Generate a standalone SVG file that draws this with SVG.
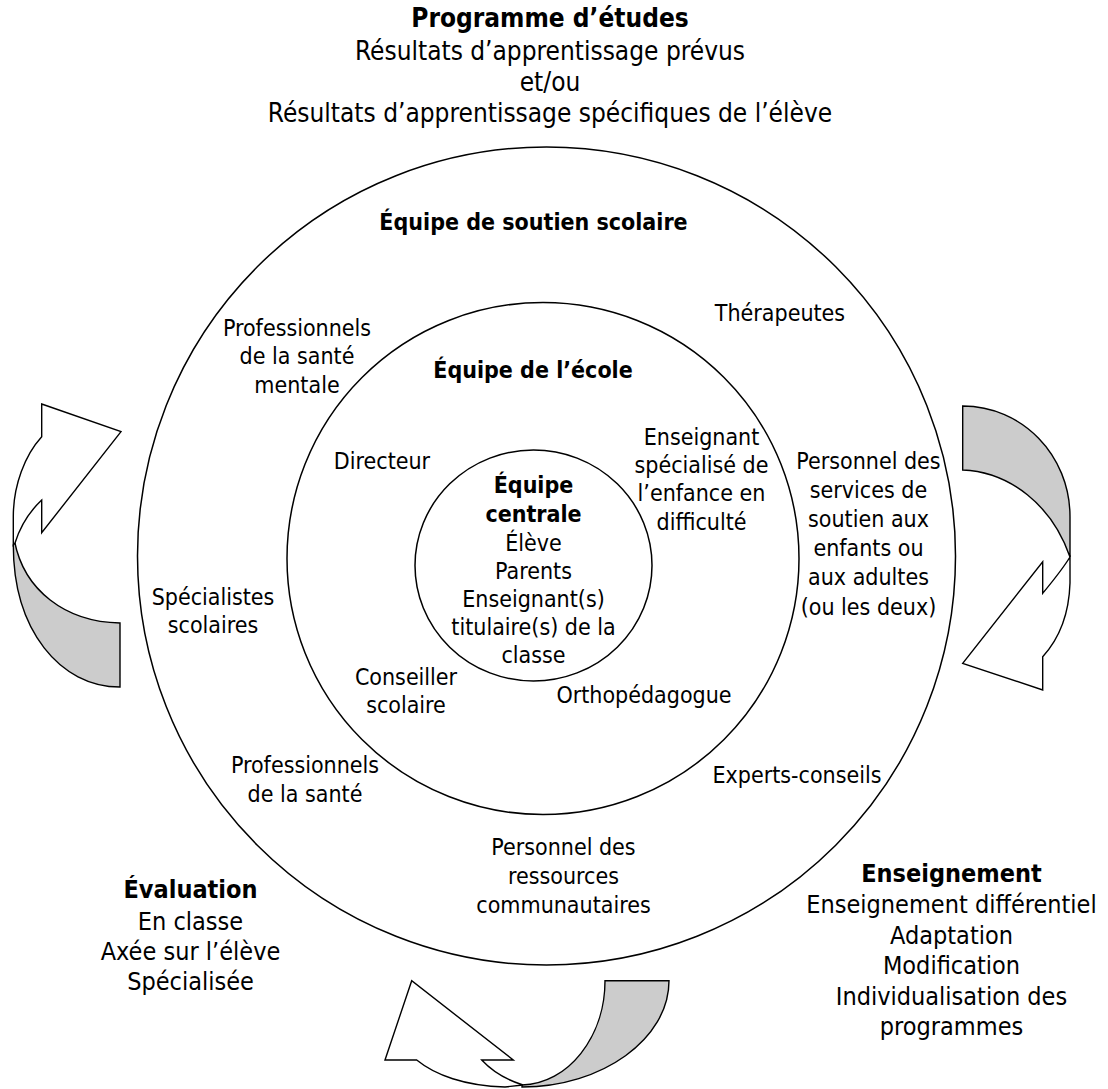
<svg xmlns="http://www.w3.org/2000/svg" width="1108" height="1089" viewBox="0 0 1108 1089">
<style>
text{font-family:"DejaVu Sans Condensed","DejaVu Sans","Liberation Sans",sans-serif;fill:#000;text-anchor:middle}
.r{font-size:23px}
.b{font-size:23px;font-weight:bold}
.s{font-size:25px}
.sb{font-size:25px;font-weight:bold}
.t{font-size:26px}
.tb{font-size:26px;font-weight:bold}
.ring{fill:none;stroke:#000;stroke-width:1.5}
.aw{fill:#fff;stroke:#000;stroke-width:1.4;stroke-linejoin:miter}
.ag{fill:#cccccc;stroke:#000;stroke-width:1.4}
</style>
<rect width="1108" height="1089" fill="#fff"/>

<g id="programme">
<text class="tb" x="550" y="27">Programme d’études</text>
<text class="t" x="550" y="60">Résultats d’apprentissage prévus</text>
<text class="t" x="550" y="91">et/ou</text>
<text class="t" x="550" y="122">Résultats d’apprentissage spécifiques de l’élève</text>
</g>

<g id="equipe-soutien">
<circle class="ring" cx="546.5" cy="556" r="409"/>
<text class="b" x="533.5" y="230">Équipe de soutien scolaire</text>
</g>

<g id="equipe-ecole">
<circle class="ring" cx="543" cy="558.5" r="256"/>
<text class="b" x="533" y="378">Équipe de l’école</text>
</g>

<g id="equipe-centrale">
<ellipse class="ring" cx="533.5" cy="565.5" rx="118.5" ry="115.5"/>
<text class="b" x="533.5" y="493">Équipe</text>
<text class="b" x="533.5" y="522">centrale</text>
<text class="r" x="533.5" y="551">Élève</text>
<text class="r" x="533.5" y="579">Parents</text>
<text class="r" x="533.5" y="607">Enseignant(s)</text>
<text class="r" x="533.5" y="635">titulaire(s) de la</text>
<text class="r" x="533.5" y="663">classe</text>
</g>

<g id="directeur"><text class="r" x="382" y="469">Directeur</text></g>
<g id="enseignant-specialise">
<text class="r" x="701.5" y="445">Enseignant</text>
<text class="r" x="701.5" y="473">spécialisé de</text>
<text class="r" x="701.5" y="501">l’enfance en</text>
<text class="r" x="701.5" y="530">difficulté</text>
</g>
<g id="conseiller"><text class="r" x="406" y="685">Conseiller</text><text class="r" x="406" y="713">scolaire</text></g>
<g id="orthopedagogue"><text class="r" x="644" y="703">Orthopédagogue</text></g>

<g id="therapeutes"><text class="r" x="780" y="321">Thérapeutes</text></g>
<g id="sante-mentale">
<text class="r" x="297" y="336">Professionnels</text>
<text class="r" x="297" y="364">de la santé</text>
<text class="r" x="297" y="393">mentale</text>
</g>
<g id="services-soutien">
<text class="r" x="868.5" y="469">Personnel des</text>
<text class="r" x="868.5" y="498">services de</text>
<text class="r" x="868.5" y="527">soutien aux</text>
<text class="r" x="868.5" y="556">enfants ou</text>
<text class="r" x="868.5" y="585">aux adultes</text>
<text class="r" x="868.5" y="615">(ou les deux)</text>
</g>
<g id="specialistes"><text class="r" x="213" y="605">Spécialistes</text><text class="r" x="213" y="633">scolaires</text></g>
<g id="sante"><text class="r" x="305" y="773">Professionnels</text><text class="r" x="305" y="802">de la santé</text></g>
<g id="experts"><text class="r" x="797" y="783">Experts-conseils</text></g>
<g id="ressources">
<text class="r" x="563.5" y="855">Personnel des</text>
<text class="r" x="563.5" y="884">ressources</text>
<text class="r" x="563.5" y="913">communautaires</text>
</g>

<g id="evaluation">
<text class="sb" x="190.5" y="898">Évaluation</text>
<text class="s" x="190.5" y="930">En classe</text>
<text class="s" x="190.5" y="960">Axée sur l’élève</text>
<text class="s" x="190.5" y="990">Spécialisée</text>
</g>

<g id="enseignement">
<text class="sb" x="951.5" y="882">Enseignement</text>
<text class="s" x="951.5" y="913">Enseignement différentiel</text>
<text class="s" x="951.5" y="943.5">Adaptation</text>
<text class="s" x="951.5" y="974">Modification</text>
<text class="s" x="951.5" y="1004.5">Individualisation des</text>
<text class="s" x="951.5" y="1035">programmes</text>
</g>

<g id="connectors">
<g id="arrow-left">
<path class="ag" d="M14.5 541 C24 590 65 622 120 623 L120 687 C60 687 13.3 630 13.3 545 Z"/>
<path class="aw" d="M41.7 404 L121 431.7 L41.7 532.7 L41.7 500 C29 512 20 527 15 543 L13.3 545 L13.3 516.7 C13.3 485 25 455 41.7 436.7 Z"/>
</g>
<g id="arrow-right">
<path class="ag" d="M962.7 406 C1022 406 1070 455 1070 516.7 L1070 557 C1052 505 1010 472 962.7 470 Z"/>
<path class="aw" d="M1070 557 L1070 583 C1069 615 1058 640 1042.7 656.7 L1042.7 690 L962.7 663.3 L1042.7 561.7 L1042.7 593.3 C1052 582 1062 570 1070 557 Z"/>
</g>
<g id="arrow-bottom">
<path class="ag" d="M605 980.7 L669 980.7 C669 1039 602 1087 522 1087 L522 1085 C568 1084 605 1037 605 980.7 Z"/>
<path class="aw" d="M385 1060 L411.7 980.7 L513.3 1060 L481.7 1060 C492 1071 507 1080 523 1085 L505 1087 C465 1086 435 1075 416.7 1060 Z"/>
</g>
</g>
</svg>
